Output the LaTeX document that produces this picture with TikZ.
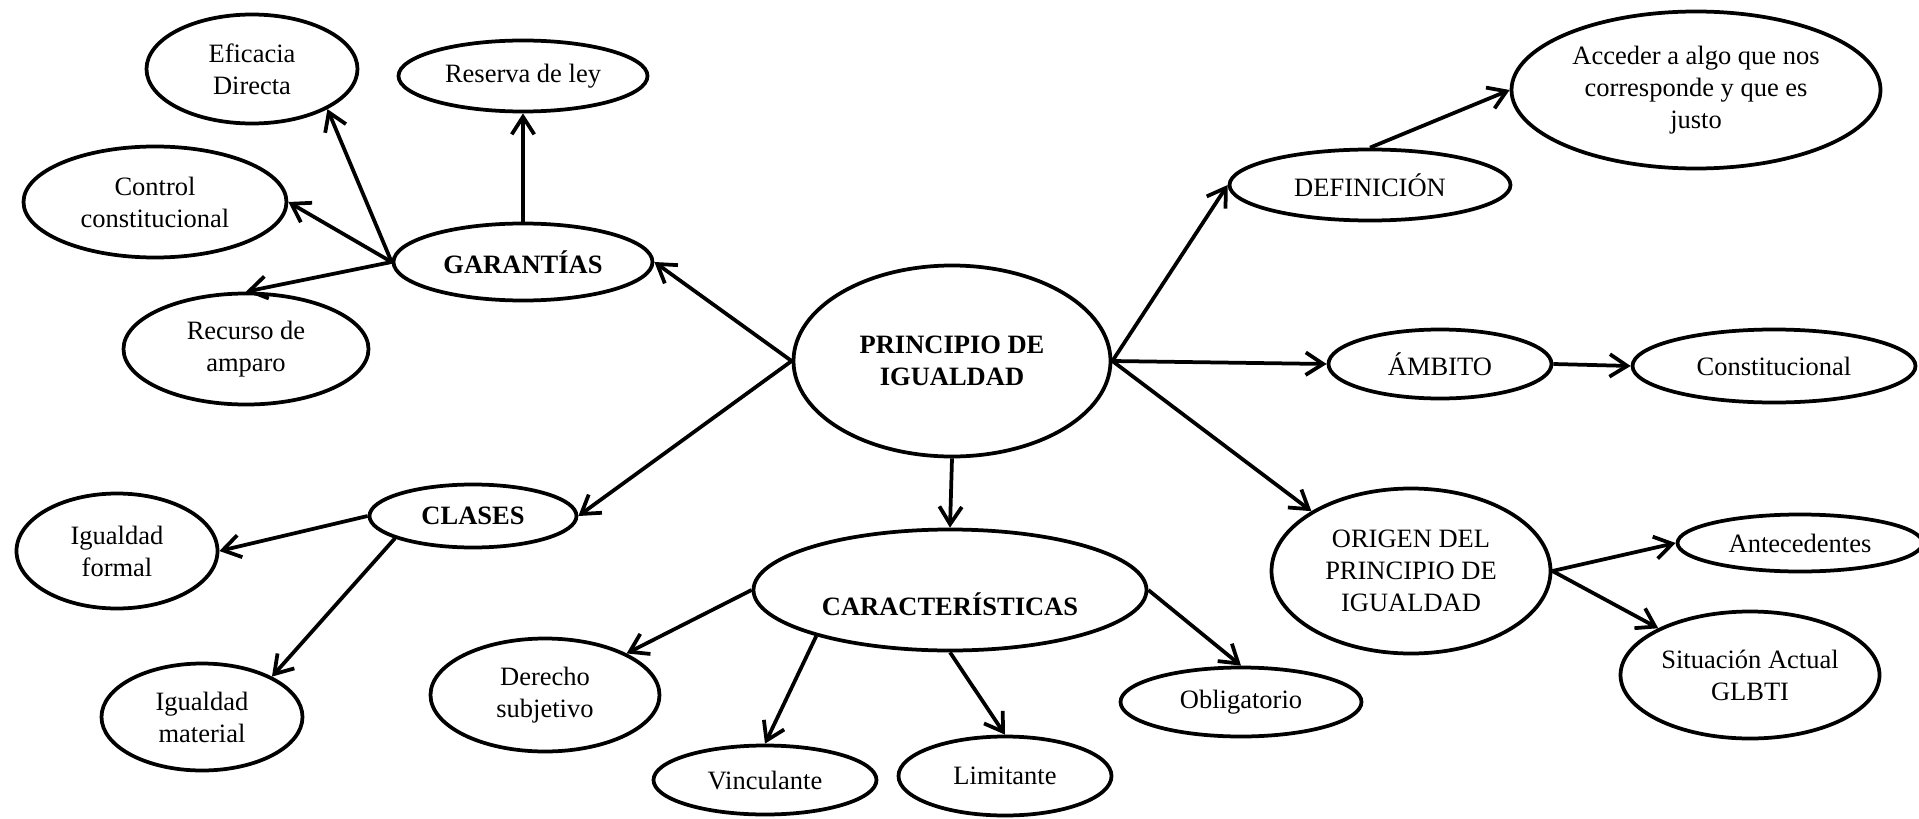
\documentclass[tikz,border=0pt]{standalone}
\usepackage{fontspec}
\setmainfont{Liberation Serif}
\usetikzlibrary{shapes.geometric,arrows.meta}

\begin{document}
\begin{tikzpicture}[x=0.4pt, y=-0.4pt, line width=1.5pt,
	>={Straight Barb[length=7pt,width=9pt]},
	every node/.style={font=\fontsize{10.6}{12.8}\selectfont},
	elli/.style={ellipse, draw, align=center, inner sep=0pt},
	hd/.style={elli, font=\fontsize{10.6}{12.8}\selectfont\bfseries}]
	\clip (0,0) rectangle (1919,819);
	\node (PI)    at ( 952, 361)	[hd, minimum width=126.8pt, minimum height=76.4pt]	{PRINCIPIO DE\\IGUALDAD};
	\node (Gar)   at ( 523, 262)	[hd, minimum width=103.6pt, minimum height=30.8pt]	{GARANTÍAS};
	\node (Cla)   at ( 473, 516)	[hd, minimum width=82.8pt,  minimum height=25.2pt]	{CLASES};
	\node (Car)   at ( 950, 590)	[hd, minimum width=157.2pt, minimum height=48.4pt, text height=20.6pt, text depth=0pt]	{CARACTERÍSTICAS};
	\node (EfD)   at ( 252,  69)	[elli, minimum width=84.4pt,  minimum height=43.6pt]	{Eficacia\\Directa};
	\node (Res)   at ( 523,  76)	[elli, minimum width=99.6pt,  minimum height=28.4pt]	{Reserva de ley};
	\node (Ctrl)  at ( 155, 202)	[elli, minimum width=105.2pt, minimum height=44.4pt]	{Control\\constitucional};
	\node (Rec)   at ( 246, 349)	[elli, minimum width=98pt,    minimum height=44.4pt]	{Recurso de\\amparo};
	\node (IgF)   at ( 117, 551)	[elli, minimum width=80.4pt,  minimum height=46pt]	{Igualdad\\formal};
	\node (IgM)   at ( 202, 717)	[elli, minimum width=80.4pt,  minimum height=42.8pt]	{Igualdad\\material};
	\node (Der)   at ( 545, 695)	[elli, minimum width=91.6pt,  minimum height=45.2pt]	{Derecho\\subjetivo};
	\node (Vinc)  at ( 765, 780)	[elli, minimum width=89.2pt,  minimum height=27.6pt]	{Vinculante};
	\node (Lim)   at (1005, 776)	[elli, minimum width=85.2pt,  minimum height=31.6pt]	{Limitante};
	\node (Obl)   at (1241, 702)	[elli, minimum width=96.4pt,  minimum height=27.6pt]	{Obligatorio};
	\node (Def)   at (1370, 185)	[elli, minimum width=112.4pt, minimum height=28.4pt]	{DEFINICIÓN};
	\node (Acc)   at (1696,  90)	[elli, minimum width=147.6pt, minimum height=62.8pt]	{Acceder a algo que nos\\corresponde y que es\\justo};
	\node (Amb)   at (1440, 364)	[elli, minimum width=89.2pt,  minimum height=27.6pt]	{ÁMBITO};
	\node (Const) at (1774, 366)	[elli, minimum width=113.2pt, minimum height=29.2pt]	{Constitucional};
	\node (Orig)  at (1411, 571)	[elli, minimum width=111.6pt, minimum height=66pt]	{ORIGEN DEL\\PRINCIPIO DE\\IGUALDAD};
	\node (Ante)  at (1800, 543)	[elli, minimum width=98pt,    minimum height=22.8pt]	{Antecedentes};
	\node (Sit)   at (1750, 675)	[elli, minimum width=103.6pt, minimum height=50.8pt]	{Situación Actual\\GLBTI};
	\draw[->] (PI.west) -- (Gar.east);
	\draw[->] (PI.west) -- (Cla.east);
	\draw[->] (PI.south) -- (Car.north);
	\draw[->] (PI.east) -- (Def.west);
	\draw[->] (PI.east) -- (Amb.west);
	\draw[->] (PI.east) -- (Orig.149);
	\draw[->] (Gar.north) -- (Res.south);
	\draw[->] (Gar.west) -- (EfD.-28);
	\draw[->] (Gar.west) -- (Ctrl.east);
	\draw[->] (Gar.west) -- (Rec.north);
	\draw[->] (Cla.west) -- (IgF.east);
	\draw[->] (Cla.196) -- (IgM.30);
	\draw[->] (Car.west) -- (Der.27);
	\draw[->] (Car.199) -- (Vinc.north);
	\draw[->] (Car.south) -- (Lim.north);
	\draw[->] (Car.east) -- (Obl.north);
	\draw[->] (Def.north) -- (Acc.west);
	\draw[->] (Amb.east) -- (Const.west);
	\draw[->] (Orig.east) -- (Ante.west);
	\draw[->] (Orig.east) -- (Sit.153);
\end{tikzpicture}
\end{document}
